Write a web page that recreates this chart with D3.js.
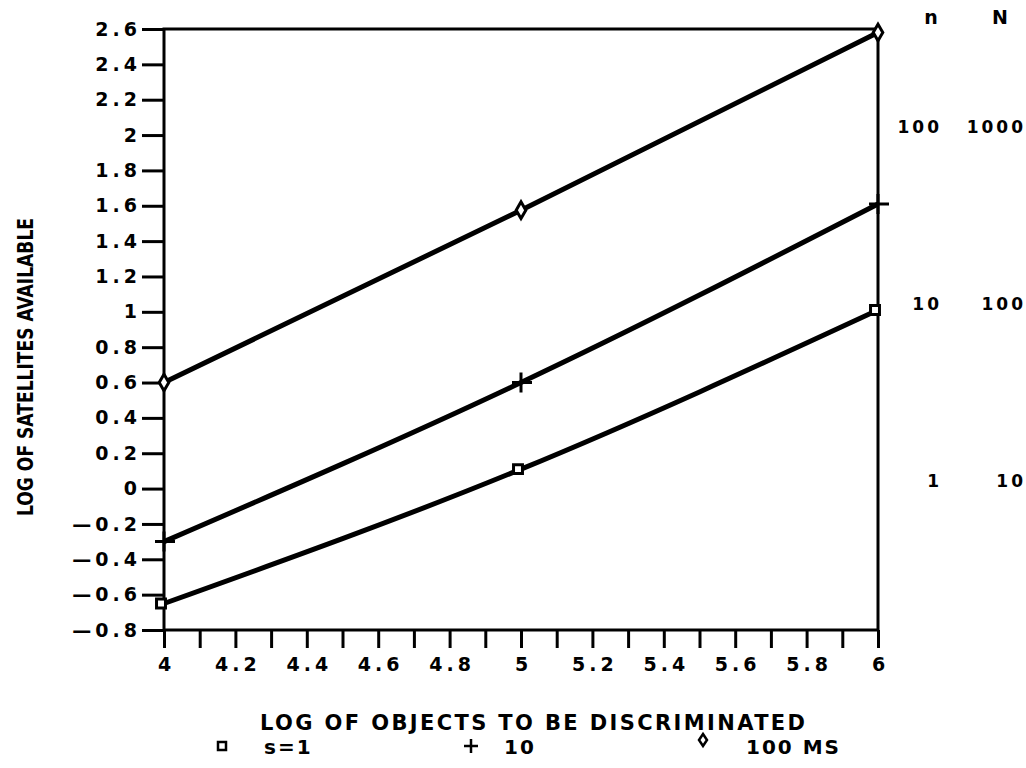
<!DOCTYPE html>
<meta charset="utf-8">
<script src="https://d3js.org/d3.v7.min.js"></script>
<style>
    body { margin: 0; background: #fff; }
    text { font-family: "DejaVu Sans", sans-serif; font-weight: bold; fill: #000; }
</style>
<body>
</body>
<script>
    // values
    var logObjects = [4, 5, 6];
    var sOne    = [-0.65, 0.11, 1.01];   // square
    var sTen    = [-0.30, 0.60, 1.61];   // plus
    var sHundred = [0.60, 1.575, 2.58];  // diamond

    var yTicks = [-0.8, -0.6, -0.4, -0.2, 0, 0.2, 0.4, 0.6, 0.8, 1, 1.2, 1.4, 1.6, 1.8, 2, 2.2, 2.4, 2.6];
    var xLabelTicks = [4, 4.2, 4.4, 4.6, 4.8, 5, 5.2, 5.4, 5.6, 5.8, 6];
    var rightLogs = [2, 1, 0];
    var nLabels = ["100", "10", "1"];
    var bigNLabels = ["1000", "100", "10"];

    var width = 1026, height = 768;
    var svg = d3.select("body").append("svg")
        .attr("width", width)
        .attr("height", height);

    var x = d3.scaleLinear().domain([4, 6]).range([164, 878]);
    var y = d3.scaleLinear().domain([-0.8, 2.6]).range([630, 29]);

    // frame
    svg.append("rect")
        .attr("x", x(4)).attr("y", y(2.6))
        .attr("width", x(6) - x(4)).attr("height", y(-0.8) - y(2.6))
        .attr("fill", "none").attr("stroke", "#000").attr("stroke-width", 3);

    // y axis
    var yAxis = d3.axisLeft(y).tickValues(yTicks).tickSize(22).tickPadding(1)
        .tickFormat(function(d) { return String(+d.toFixed(1)).replace("-", "\u2014"); });
    var gy = svg.append("g").attr("transform", "translate(" + x(4) + ",0)").call(yAxis);
    gy.select(".domain").remove();
    gy.selectAll(".tick line").attr("stroke-width", 3);
    gy.selectAll(".tick text").attr("font-size", 19).attr("font-family", "DejaVu Sans")
        .attr("font-weight", "bold").attr("letter-spacing", 4);

    // x axis: minor ticks every 0.1, labels every 0.2
    var xAxis = d3.axisBottom(x).ticks(20).tickSize(18).tickPadding(10)
        .tickFormat(function(d) {
            var v = +d.toFixed(1);
            return xLabelTicks.indexOf(v) >= 0 ? v : "";
        });
    var gx = svg.append("g").attr("transform", "translate(0," + y(-0.8) + ")").call(xAxis);
    gx.select(".domain").remove();
    gx.selectAll(".tick line").attr("stroke-width", 3);
    gx.selectAll(".tick text").attr("font-size", 19).attr("font-family", "DejaVu Sans")
        .attr("font-weight", "bold").attr("letter-spacing", 4).attr("dx", 2);

    // curves
    var line = d3.line()
        .x(function(d, i) { return x(logObjects[i]); })
        .y(function(d) { return y(d); })
        .curve(d3.curveNatural);

    [sOne, sTen, sHundred].forEach(function(s) {
        svg.append("path").datum(s)
            .attr("d", line)
            .attr("fill", "none").attr("stroke", "#000").attr("stroke-width", 5);
    });

    // markers
    var sq = d3.symbol().type(d3.symbolSquare).size(80);
    var diamond = d3.symbol().type(d3.symbolDiamond).size(80);

    svg.selectAll(".sq").data(sOne).enter().append("path")
        .attr("d", sq)
        .attr("transform", function(d, i) { return "translate(" + (x(logObjects[i]) - 3) + "," + y(d) + ")"; })
        .attr("fill", "#fff").attr("stroke", "#000").attr("stroke-width", 3);

    svg.selectAll(".pl").data(sTen).enter().append("path")
        .attr("d", "M-9,0H11M0,-10V10")
        .attr("transform", function(d, i) { return "translate(" + x(logObjects[i]) + "," + y(d) + ")"; })
        .attr("fill", "none").attr("stroke", "#000").attr("stroke-width", 3);

    svg.selectAll(".dm").data(sHundred).enter().append("path")
        .attr("d", diamond)
        .attr("transform", function(d, i) { return "translate(" + x(logObjects[i]) + "," + y(d) + ")"; })
        .attr("fill", "#fff").attr("stroke", "#000").attr("stroke-width", 3);

    // right hand n / N labels
    svg.append("text").attr("x", 931).attr("y", 24).attr("text-anchor", "middle").attr("font-size", 19).text("n");
    svg.append("text").attr("x", 1000).attr("y", 24).attr("text-anchor", "middle").attr("font-size", 19).text("N");
    rightLogs.forEach(function(v, i) {
        svg.append("text").attr("x", 942).attr("y", y(v) - 2).attr("text-anchor", "end")
            .attr("font-size", 17).attr("letter-spacing", 3).text(nLabels[i]);
        svg.append("text").attr("x", 1026).attr("y", y(v) - 2).attr("text-anchor", "end")
            .attr("font-size", 17).attr("letter-spacing", 3).text(bigNLabels[i]);
    });

    // axis titles
    svg.append("text")
        .attr("x", 260).attr("y", 730)
        .attr("textLength", 545).attr("lengthAdjust", "spacing")
        .attr("font-size", 21)
        .text("LOG OF OBJECTS TO BE DISCRIMINATED");

    svg.append("text")
        .attr("transform", "translate(33,367) rotate(-90)")
        .attr("text-anchor", "middle")
        .attr("textLength", 298).attr("lengthAdjust", "spacingAndGlyphs")
        .attr("font-family", "Liberation Sans")
        .attr("font-size", 21)
        .text("LOG OF SATELLITES AVAILABLE");

    // legend
    var legend = [
        {sym: "sq", label: "s=1", sx: 222, tx: 264},
        {sym: "pl", label: "10", sx: 471, tx: 504},
        {sym: "dm", label: "100 MS", sx: 703, tx: 746}
    ];
    legend.forEach(function(l) {
        var g = svg.append("g").attr("transform", "translate(" + l.sx + ",746)");
        if (l.sym === "sq") {
            g.append("rect").attr("x", -4).attr("y", -4).attr("width", 8).attr("height", 8)
                .attr("fill", "#fff").attr("stroke", "#000").attr("stroke-width", 2.5);
        } else if (l.sym === "pl") {
            g.append("path").attr("d", "M-7,0H7M0,-7V7").attr("stroke", "#000").attr("stroke-width", 2.5);
        } else {
            g.append("path").attr("d", "M0,-6L4,0L0,6L-4,0Z").attr("transform", "translate(0,-6)")
                .attr("fill", "#fff").attr("stroke", "#000").attr("stroke-width", 2.5);
        }
        svg.append("text").attr("x", l.tx).attr("y", 754).attr("font-size", 20)
            .attr("letter-spacing", 2).text(l.label);
    });
</script>
